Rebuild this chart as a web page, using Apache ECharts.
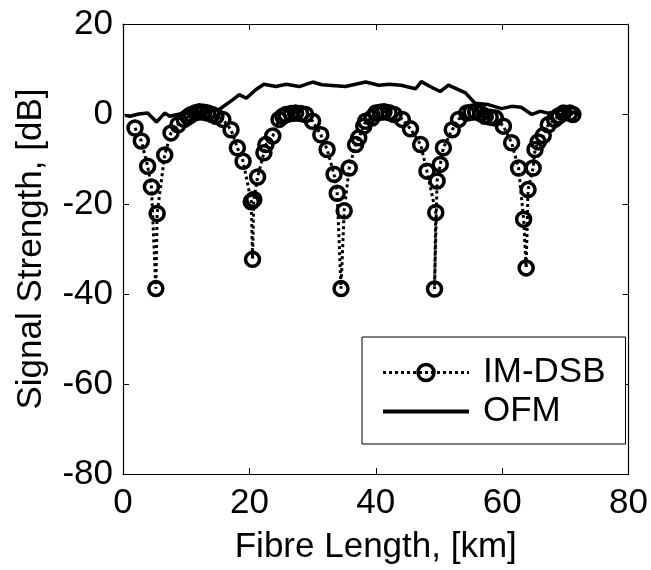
<!DOCTYPE html>
<html>
<head>
<meta charset="utf-8">
<script src="https://cdn.jsdelivr.net/npm/echarts@6/dist/echarts.min.js"></script>
<style>
html,body{margin:0;padding:0;background:#fff;}
#chart{width:651px;height:570px;}
</style>
</head>
<body>
<div id="chart"></div>
<script>
// IM-DSB (dotted with circle markers)
var imX = [1.9, 2.9, 3.9, 4.5, 5.2, 5.4, 6.6, 7.6, 8.7, 9.7, 10.3, 10.8, 11.5, 12.1, 12.8, 13.4, 14.1, 14.7, 15.8, 17.1, 18.1, 19.0, 20.3, 20.5, 20.7, 21.3, 22.3, 22.6, 23.7, 24.7, 25.3, 25.8, 26.6, 27.3, 28.1, 28.9, 30.0, 31.3, 32.3, 33.4, 33.9, 34.5, 35.0, 35.8, 36.8, 37.3, 38.1, 38.4, 39.4, 40.0, 40.7, 41.3, 42.1, 42.9, 44.2, 45.5, 47.1, 48.1, 49.5, 49.3, 49.7, 50.2, 50.7, 52.1, 53.1, 54.4, 55.1, 55.8, 56.6, 57.3, 58.1, 58.9, 60.2, 61.5, 62.6, 63.4, 63.8, 64.1, 64.9, 65.2, 65.7, 66.5, 67.3, 68.3, 69.0, 69.7, 70.7, 71.2];
var imY = [-3.1, -6.0, -11.6, -16.2, -38.8, -22.1, -9.1, -4.2, -2.4, -1.2, -0.6, -0.1, 0.3, 0.5, 0.4, 0.2, -0.1, -0.5, -1.2, -3.5, -7.5, -10.5, -19.5, -32.3, -19.0, -14.0, -8.6, -6.8, -4.9, -1.2, -0.5, -0.1, 0.1, 0.2, 0.1, -0.1, -1.6, -4.6, -7.9, -13.4, -17.6, -38.8, -21.5, -12.0, -6.8, -5.3, -2.7, -1.6, -0.9, 0.2, 0.4, 0.5, 0.3, -0.1, -1.2, -3.3, -6.8, -12.7, -21.9, -38.9, -14.9, -11.2, -7.5, -3.5, -1.2, 0.2, 0.4, 0.5, 0.1, -0.5, -0.7, -0.9, -2.7, -6.4, -12.0, -23.4, -34.2, -16.8, -12.0, -7.9, -6.2, -4.8, -2.4, -1.2, -0.4, 0.2, 0.2, -0.1];

// OFM (solid)
var ofmX = [0.3, 1.1, 2.5, 3.9, 5.3, 6.6, 7.4, 9.0, 11.0, 13.0, 15.2, 17.4, 18.4, 19.5, 21.0, 22.3, 24.2, 25.8, 27.9, 30.0, 31.5, 35.2, 38.4, 40.5, 42.1, 44.0, 46.3, 47.2, 48.6, 50.2, 51.5, 54.2, 55.7, 57.8, 59.9, 61.5, 63.0, 64.7, 66.0, 67.3, 69.9, 72.0];
var ofmY = [-0.3, -0.5, 0.0, 0.2, -1.8, 0.2, -0.5, 0.0, 0.3, 0.5, 1.0, 3.2, 4.3, 3.5, 5.4, 6.6, 6.1, 6.6, 6.1, 7.1, 6.5, 6.1, 7.1, 6.4, 6.6, 6.4, 5.6, 7.2, 6.1, 5.0, 6.4, 4.7, 2.4, 2.1, 1.2, 1.7, 1.5, -0.1, 0.6, 0.2, 1.0, 0.0];

var seriesNames = ['IM-DSB', 'OFM'];
var xTicks = [0, 20, 40, 60, 80];
var yTicks = [-80, -60, -40, -20, 0, 20];

function pairs(xs, ys){ return xs.map(function(x,i){ return [x, ys[i]]; }); }

var FONT = 'Liberation Sans, Arial, sans-serif';
var chart = echarts.init(document.getElementById('chart'), null, {renderer:'canvas'});
var axisLine = {show:true, onZero:false, lineStyle:{color:'#000', width:1.2}};
var tickIn = {show:true, inside:true, length:6, lineStyle:{color:'#000', width:1}};

chart.setOption({
  animation:false,
  backgroundColor:'#fff',
  grid:{left:123, top:24, right:21, bottom:94, containLabel:false},
  xAxis:[{
    type:'value', min:xTicks[0], max:xTicks[xTicks.length-1], interval:20,
    position:'bottom',
    name:'Fibre Length, [km]', nameLocation:'middle', nameGap:56,
    nameTextStyle:{fontFamily:FONT, fontSize:35, color:'#000'},
    axisLine:axisLine, axisTick:tickIn, splitLine:{show:false},
    axisLabel:{fontFamily:FONT, fontSize:35, color:'#000', margin:12}
  },{
    type:'value', min:xTicks[0], max:xTicks[xTicks.length-1], interval:20,
    position:'top', axisLine:axisLine, axisTick:tickIn, axisLabel:{show:false}, splitLine:{show:false}
  }],
  yAxis:[{
    type:'value', min:yTicks[0], max:yTicks[yTicks.length-1], interval:20,
    position:'left',
    name:'Signal Strength, [dB]', nameLocation:'middle', nameGap:74, nameRotate:90,
    nameTextStyle:{fontFamily:FONT, fontSize:35, color:'#000'},
    axisLine:axisLine, axisTick:tickIn, splitLine:{show:false},
    axisLabel:{fontFamily:FONT, fontSize:35, color:'#000', margin:10}
  },{
    type:'value', min:yTicks[0], max:yTicks[yTicks.length-1], interval:20,
    position:'right', axisLine:axisLine, axisTick:tickIn, axisLabel:{show:false}, splitLine:{show:false}
  }],
  legend:{
    orient:'vertical', left:362, top:337,
    data:[
      {name:seriesNames[0], itemStyle:{color:'rgba(0,0,0,0)', borderColor:'#000', borderWidth:3.5}, lineStyle:{width:3, type:[3,3], color:'#000'}},
      {name:seriesNames[1], itemStyle:{opacity:0}, lineStyle:{width:4, type:'solid', color:'#000'}}
    ],
    backgroundColor:'#fff', borderColor:'#000', borderWidth:1,
    padding:[18, 20, 15, 19],
    itemWidth:86, itemHeight:20, itemGap:4,
    textStyle:{fontFamily:FONT, fontSize:35, color:'#000', lineHeight:34, padding:[0,0,0,9]}
  },
  series:[{
    name:seriesNames[0], type:'line', data:pairs(imX, imY),
    symbol:'circle', symbolSize:14, showAllSymbol:true,
    lineStyle:{color:'#000', width:3, type:[3,3]},
    itemStyle:{color:'rgba(0,0,0,0)', borderColor:'#000', borderWidth:3.5},
    z:3
  },{
    name:seriesNames[1], type:'line', data:pairs(ofmX, ofmY),
    symbol:'none', showSymbol:false,
    lineStyle:{color:'#000', width:3.5, type:'solid'},
    itemStyle:{color:'#000'},
    z:2
  }]
});
</script>
</body>
</html>
